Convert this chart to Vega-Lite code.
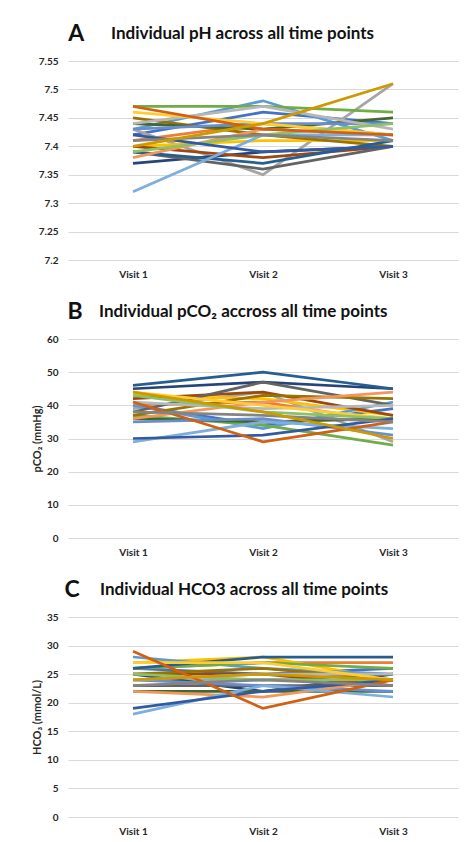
{
  "$schema": "https://vega.github.io/schema/vega-lite/v6.json",
  "padding": {"left": 31, "top": 23, "right": 5, "bottom": 5},
  "background": "white",
  "config": {
    "font": "Lato",
    "view": {"stroke": null},
    "axis": {
      "labelFont": "Lato", "labelFontSize": 10, "labelFontWeight": "bold", "labelColor": "#262626",
      "titleFont": "Lato", "titleFontSize": 11, "titleFontWeight": "bold", "titleColor": "#262626",
      "ticks": false, "tickSize": 0, "domain": false,
      "gridColor": "#D9D9D9", "gridWidth": 1
    },
    "axisX": {"grid": false, "labelPadding": 9, "labelAngle": 0},
    "axisY": {"labelPadding": 10, "titlePadding": 4},
    "title": {"font": "Lato", "anchor": "start", "color": "#111111", "fontWeight": "bold"}
  },
  "datasets": {
    "d": [
      {"id": "s01", "visit": "Visit 1", "ph": 7.42, "pco2": 40, "hco3": 26},
      {"id": "s01", "visit": "Visit 2", "ph": 7.46, "pco2": 34, "hco3": 25},
      {"id": "s01", "visit": "Visit 3", "ph": 7.44, "pco2": 39, "hco3": 26},
      {"id": "s02", "visit": "Visit 1", "ph": 7.41, "pco2": 40, "hco3": 26},
      {"id": "s02", "visit": "Visit 2", "ph": 7.44, "pco2": 41, "hco3": 27},
      {"id": "s02", "visit": "Visit 3", "ph": 7.42, "pco2": 35, "hco3": 27},
      {"id": "s03", "visit": "Visit 1", "ph": 7.43, "pco2": 39, "hco3": 24},
      {"id": "s03", "visit": "Visit 2", "ph": 7.35, "pco2": 44, "hco3": 24},
      {"id": "s03", "visit": "Visit 3", "ph": 7.51, "pco2": 29, "hco3": 25},
      {"id": "s04", "visit": "Visit 1", "ph": 7.40, "pco2": 43, "hco3": 27},
      {"id": "s04", "visit": "Visit 2", "ph": 7.41, "pco2": 42, "hco3": 28},
      {"id": "s04", "visit": "Visit 3", "ph": 7.41, "pco2": 37, "hco3": 24},
      {"id": "s05", "visit": "Visit 1", "ph": 7.43, "pco2": 40, "hco3": 28},
      {"id": "s05", "visit": "Visit 2", "ph": 7.48, "pco2": 33, "hco3": 26},
      {"id": "s05", "visit": "Visit 3", "ph": 7.41, "pco2": 41, "hco3": 25},
      {"id": "s06", "visit": "Visit 1", "ph": 7.47, "pco2": 37, "hco3": 26},
      {"id": "s06", "visit": "Visit 2", "ph": 7.47, "pco2": 34, "hco3": 27},
      {"id": "s06", "visit": "Visit 3", "ph": 7.46, "pco2": 28, "hco3": 26},
      {"id": "s07", "visit": "Visit 1", "ph": 7.37, "pco2": 45, "hco3": 25},
      {"id": "s07", "visit": "Visit 2", "ph": 7.39, "pco2": 47, "hco3": 22},
      {"id": "s07", "visit": "Visit 3", "ph": 7.40, "pco2": 45, "hco3": 25},
      {"id": "s08", "visit": "Visit 1", "ph": 7.40, "pco2": 42, "hco3": 25},
      {"id": "s08", "visit": "Visit 2", "ph": 7.38, "pco2": 44, "hco3": 25},
      {"id": "s08", "visit": "Visit 3", "ph": 7.40, "pco2": 37, "hco3": 23},
      {"id": "s09", "visit": "Visit 1", "ph": 7.39, "pco2": 38, "hco3": 23},
      {"id": "s09", "visit": "Visit 2", "ph": 7.36, "pco2": 47, "hco3": 23},
      {"id": "s09", "visit": "Visit 3", "ph": 7.40, "pco2": 40, "hco3": 23},
      {"id": "s10", "visit": "Visit 1", "ph": 7.45, "pco2": 37, "hco3": 25},
      {"id": "s10", "visit": "Visit 2", "ph": 7.42, "pco2": 43, "hco3": 26},
      {"id": "s10", "visit": "Visit 3", "ph": 7.40, "pco2": 42, "hco3": 24},
      {"id": "s11", "visit": "Visit 1", "ph": 7.39, "pco2": 46, "hco3": 26},
      {"id": "s11", "visit": "Visit 2", "ph": 7.37, "pco2": 50, "hco3": 28},
      {"id": "s11", "visit": "Visit 3", "ph": 7.41, "pco2": 45, "hco3": 28},
      {"id": "s12", "visit": "Visit 1", "ph": 7.44, "pco2": 36, "hco3": 22},
      {"id": "s12", "visit": "Visit 2", "ph": 7.43, "pco2": 35, "hco3": 22},
      {"id": "s12", "visit": "Visit 3", "ph": 7.45, "pco2": 36, "hco3": 22},
      {"id": "s13", "visit": "Visit 1", "ph": 7.43, "pco2": 35, "hco3": 24},
      {"id": "s13", "visit": "Visit 2", "ph": 7.44, "pco2": 36, "hco3": 23},
      {"id": "s13", "visit": "Visit 3", "ph": 7.44, "pco2": 31, "hco3": 22},
      {"id": "s14", "visit": "Visit 1", "ph": 7.38, "pco2": 36, "hco3": 22},
      {"id": "s14", "visit": "Visit 2", "ph": 7.43, "pco2": 41, "hco3": 21},
      {"id": "s14", "visit": "Visit 3", "ph": 7.42, "pco2": 44, "hco3": 24},
      {"id": "s15", "visit": "Visit 1", "ph": 7.44, "pco2": 41, "hco3": 24},
      {"id": "s15", "visit": "Visit 2", "ph": 7.47, "pco2": 39, "hco3": 25},
      {"id": "s15", "visit": "Visit 3", "ph": 7.43, "pco2": 40, "hco3": 25},
      {"id": "s16", "visit": "Visit 1", "ph": 7.46, "pco2": 44, "hco3": 27},
      {"id": "s16", "visit": "Visit 2", "ph": 7.44, "pco2": 40, "hco3": 27},
      {"id": "s16", "visit": "Visit 3", "ph": 7.42, "pco2": 36, "hco3": 24},
      {"id": "s17", "visit": "Visit 1", "ph": 7.32, "pco2": 29, "hco3": 18},
      {"id": "s17", "visit": "Visit 2", "ph": 7.42, "pco2": 35, "hco3": 23},
      {"id": "s17", "visit": "Visit 3", "ph": 7.42, "pco2": 33, "hco3": 21},
      {"id": "s18", "visit": "Visit 1", "ph": 7.39, "pco2": 43, "hco3": 25},
      {"id": "s18", "visit": "Visit 2", "ph": 7.42, "pco2": 38, "hco3": 24},
      {"id": "s18", "visit": "Visit 3", "ph": 7.44, "pco2": 36, "hco3": 24},
      {"id": "s19", "visit": "Visit 1", "ph": 7.42, "pco2": 30, "hco3": 19},
      {"id": "s19", "visit": "Visit 2", "ph": 7.39, "pco2": 31, "hco3": 22},
      {"id": "s19", "visit": "Visit 3", "ph": 7.40, "pco2": 36, "hco3": 24},
      {"id": "s20", "visit": "Visit 1", "ph": 7.47, "pco2": 41, "hco3": 29},
      {"id": "s20", "visit": "Visit 2", "ph": 7.43, "pco2": 29, "hco3": 19},
      {"id": "s20", "visit": "Visit 3", "ph": 7.42, "pco2": 35, "hco3": 24},
      {"id": "s21", "visit": "Visit 1", "ph": 7.41, "pco2": 38, "hco3": 23},
      {"id": "s21", "visit": "Visit 2", "ph": 7.42, "pco2": 37, "hco3": 24},
      {"id": "s21", "visit": "Visit 3", "ph": 7.41, "pco2": 35, "hco3": 23},
      {"id": "s22", "visit": "Visit 1", "ph": 7.40, "pco2": 44, "hco3": 24},
      {"id": "s22", "visit": "Visit 2", "ph": 7.44, "pco2": 38, "hco3": 25},
      {"id": "s22", "visit": "Visit 3", "ph": 7.51, "pco2": 30, "hco3": 24}
    ]
  },
  "align": "none",
  "spacing": 22,
  "vconcat": [
    {
      "title": {"text": "A", "fontSize": 23, "frame": "bounds", "dx": 30, "offset": -21},
      "vconcat": [
        {
          "data": {"name": "d"},
          "width": 390,
          "height": 199,
          "title": {"text": "Individual pH across all time points", "fontSize": 17, "frame": "group", "dx": 43, "offset": 13},
          "mark": {"type": "line", "strokeWidth": 2.75},
          "encoding": {
            "x": {"field": "visit", "type": "ordinal", "sort": ["Visit 1", "Visit 2", "Visit 3"], "scale": {"type": "point", "padding": 0.5}, "title": null},
            "y": {"field": "ph", "type": "quantitative", "scale": {"domain": [7.2, 7.55], "zero": false, "nice": false}, "axis": {"values": [7.2, 7.25, 7.3, 7.35, 7.4, 7.45, 7.5, 7.55], "format": ".3~g"}, "title": null},
            "color": {"field": "id", "type": "nominal", "legend": null, "scale": {"domain": ["s01","s02","s03","s04","s05","s06","s07","s08","s09","s10","s11","s12","s13","s14","s15","s16","s17","s18","s19","s20","s21","s22"], "range": ["#4472C4","#ED7D31","#A5A5A5","#FFC000","#5B9BD5","#70AD47","#264478","#9E480E","#636363","#997300","#255E91","#43682B","#698ED0","#F1975A","#B7B7B7","#FFCD33","#7CAFDD","#8CC168","#335AA1","#D26012","#848484","#CC9A00"]}}
          }
        }
      ]
    },
    {
      "title": {"text": "B", "fontSize": 23, "frame": "bounds", "dx": 36, "offset": -21},
      "vconcat": [
        {
          "data": {"name": "d"},
          "width": 390,
          "height": 199,
          "title": {"text": "Individual pCO\u2082 accross all time points", "fontSize": 17, "frame": "group", "dx": 31, "offset": 13},
          "mark": {"type": "line", "strokeWidth": 2.75},
          "encoding": {
            "x": {"field": "visit", "type": "ordinal", "sort": ["Visit 1", "Visit 2", "Visit 3"], "scale": {"type": "point", "padding": 0.5}, "title": null},
            "y": {"field": "pco2", "type": "quantitative", "scale": {"domain": [0, 60], "nice": false}, "axis": {"values": [0, 10, 20, 30, 40, 50, 60]}, "title": "pCO\u2082 (mmHg)"},
            "color": {"field": "id", "type": "nominal", "legend": null, "scale": {"domain": ["s01","s02","s03","s04","s05","s06","s07","s08","s09","s10","s11","s12","s13","s14","s15","s16","s17","s18","s19","s20","s21","s22"], "range": ["#4472C4","#ED7D31","#A5A5A5","#FFC000","#5B9BD5","#70AD47","#264478","#9E480E","#636363","#997300","#255E91","#43682B","#698ED0","#F1975A","#B7B7B7","#FFCD33","#7CAFDD","#8CC168","#335AA1","#D26012","#848484","#CC9A00"]}}
          }
        }
      ]
    },
    {
      "title": {"text": "C", "fontSize": 23, "frame": "bounds", "dx": 33, "offset": -21},
      "vconcat": [
        {
          "data": {"name": "d"},
          "width": 390,
          "height": 200,
          "title": {"text": "Individual HCO3 across all time points", "fontSize": 17, "frame": "group", "dx": 32, "offset": 13},
          "mark": {"type": "line", "strokeWidth": 2.75},
          "encoding": {
            "x": {"field": "visit", "type": "ordinal", "sort": ["Visit 1", "Visit 2", "Visit 3"], "scale": {"type": "point", "padding": 0.5}, "title": null},
            "y": {"field": "hco3", "type": "quantitative", "scale": {"domain": [0, 35], "nice": false}, "axis": {"values": [0, 5, 10, 15, 20, 25, 30, 35]}, "title": "HCO\u2083 (mmol/L)"},
            "color": {"field": "id", "type": "nominal", "legend": null, "scale": {"domain": ["s01","s02","s03","s04","s05","s06","s07","s08","s09","s10","s11","s12","s13","s14","s15","s16","s17","s18","s19","s20","s21","s22"], "range": ["#4472C4","#ED7D31","#A5A5A5","#FFC000","#5B9BD5","#70AD47","#264478","#9E480E","#636363","#997300","#255E91","#43682B","#698ED0","#F1975A","#B7B7B7","#FFCD33","#7CAFDD","#8CC168","#335AA1","#D26012","#848484","#CC9A00"]}}
          }
        }
      ]
    }
  ]
}
